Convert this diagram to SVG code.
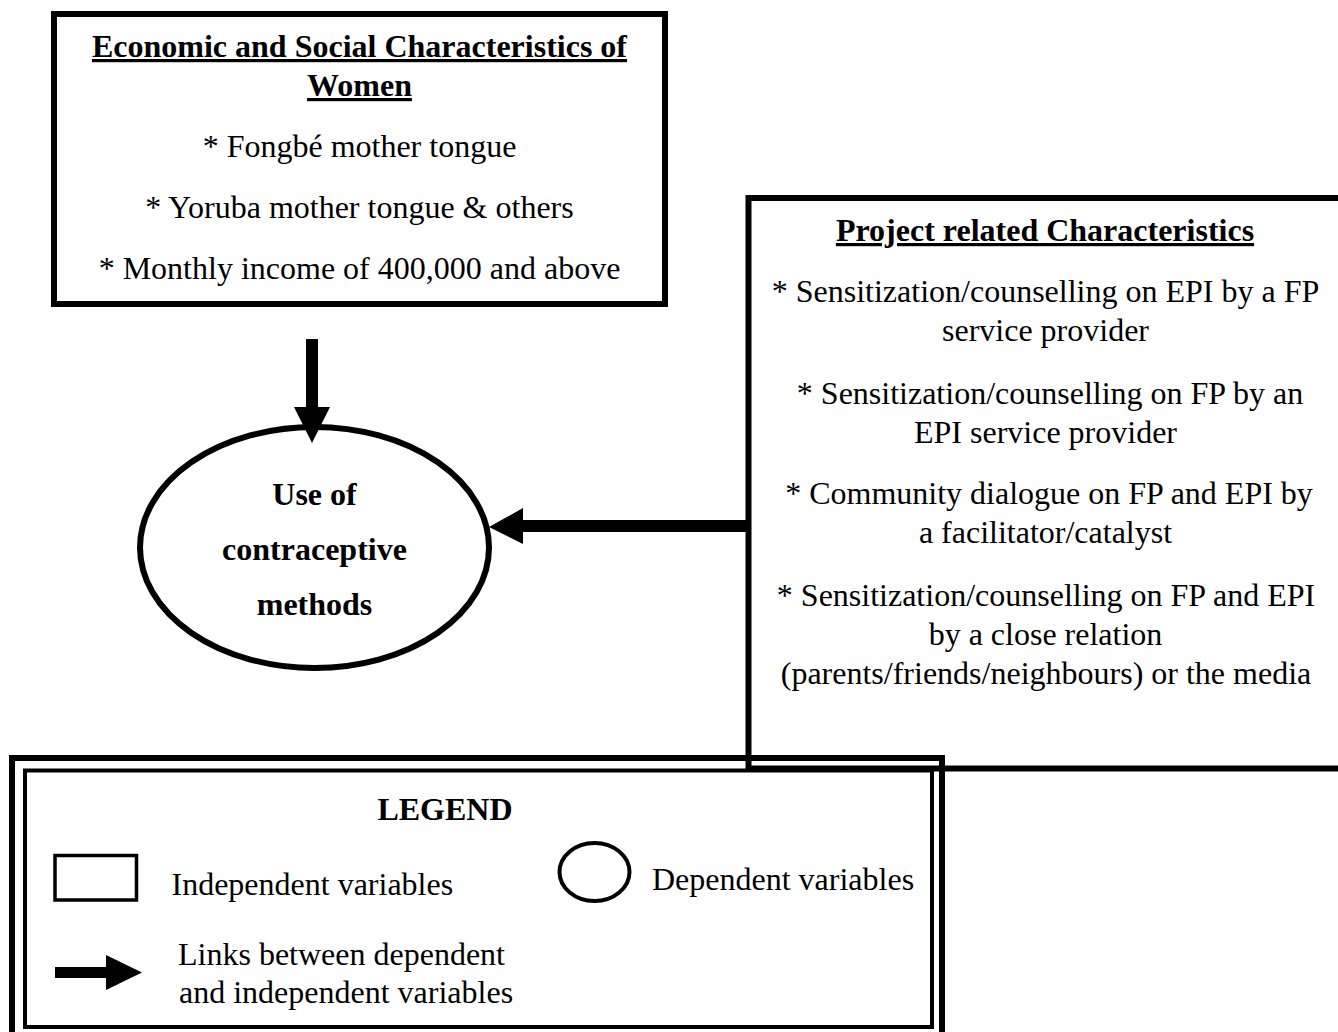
<svg xmlns="http://www.w3.org/2000/svg" width="1338" height="1032" viewBox="0 0 1338 1032">
<style>
text{font-family:"Liberation Serif","Times New Roman",serif;font-size:32px;fill:#000;}
.c{text-anchor:middle;}
.b{font-weight:bold;}
.u{text-decoration:underline;}
.box{fill:none;stroke:#000;stroke-width:6;}
.thin{fill:none;stroke:#000;stroke-width:4;}
.ar{fill:#000;stroke:none;}
</style>
<rect width="1338" height="1032" fill="#fff"/>

<g id="node-economic">
<rect class="box" x="54" y="14" width="611" height="290"/>
<text class="c b u" x="359.5" y="57">Economic and Social Characteristics of</text>
<text class="c b u" x="359.5" y="96">Women</text>
<text class="c" x="359.5" y="157">* Fongbé mother tongue</text>
<text class="c" x="359.5" y="218">* Yoruba mother tongue &amp; others</text>
<text class="c" x="359.5" y="279">* Monthly income of 400,000 and above</text>
</g>

<g id="node-project">
<rect class="box" x="748.5" y="198" width="620" height="570.5"/>
<text class="c b u" x="1045" y="241">Project related Characteristics</text>
<text class="c" x="1045.5" y="302">* Sensitization/counselling on EPI by a FP</text>
<text class="c" x="1045.5" y="341">service provider</text>
<text class="c" x="1050" y="404">* Sensitization/counselling on FP by an</text>
<text class="c" x="1045.5" y="443">EPI service provider</text>
<text class="c" x="1049" y="504">* Community dialogue on FP and EPI by</text>
<text class="c" x="1045.5" y="543">a facilitator/catalyst</text>
<text class="c" x="1046" y="606">* Sensitization/counselling on FP and EPI</text>
<text class="c" x="1045.5" y="645">by a close relation</text>
<text class="c" x="1046" y="684">(parents/friends/neighbours) or the media</text>
</g>

<g id="node-use">
<ellipse cx="314.5" cy="547.5" rx="174.5" ry="120.5" fill="#fff" stroke="#000" stroke-width="6"/>
<text class="c b" x="314.5" y="505">Use of</text>
<text class="c b" x="314.5" y="560">contraceptive</text>
<text class="c b" x="314.5" y="615">methods</text>
</g>

<g id="connectors">
<rect class="ar" x="306" y="339" width="12" height="70"/>
<polygon class="ar" points="294,407 330,407 312,443"/>
<rect class="ar" x="521" y="520" width="228" height="12"/>
<polygon class="ar" points="523,508 523,544 489,527"/>
</g>

<g id="legend">
<rect class="box" x="12" y="758" width="930" height="290"/>
<rect class="thin" x="25" y="770.5" width="907" height="256.5"/>
<text class="c b" x="445" y="820">LEGEND</text>
<rect x="55" y="855.5" width="81.5" height="44.5" fill="none" stroke="#000" stroke-width="3.5"/>
<text x="171.5" y="895">Independent variables</text>
<ellipse cx="594.5" cy="872" rx="35" ry="29" fill="none" stroke="#000" stroke-width="4"/>
<text x="652" y="890">Dependent variables</text>
<rect class="ar" x="55" y="967" width="53" height="11"/>
<polygon class="ar" points="106,955 106,990 142,972.5"/>
<text x="178" y="965">Links between dependent</text>
<text x="179" y="1003">and independent variables</text>
</g>
</svg>
